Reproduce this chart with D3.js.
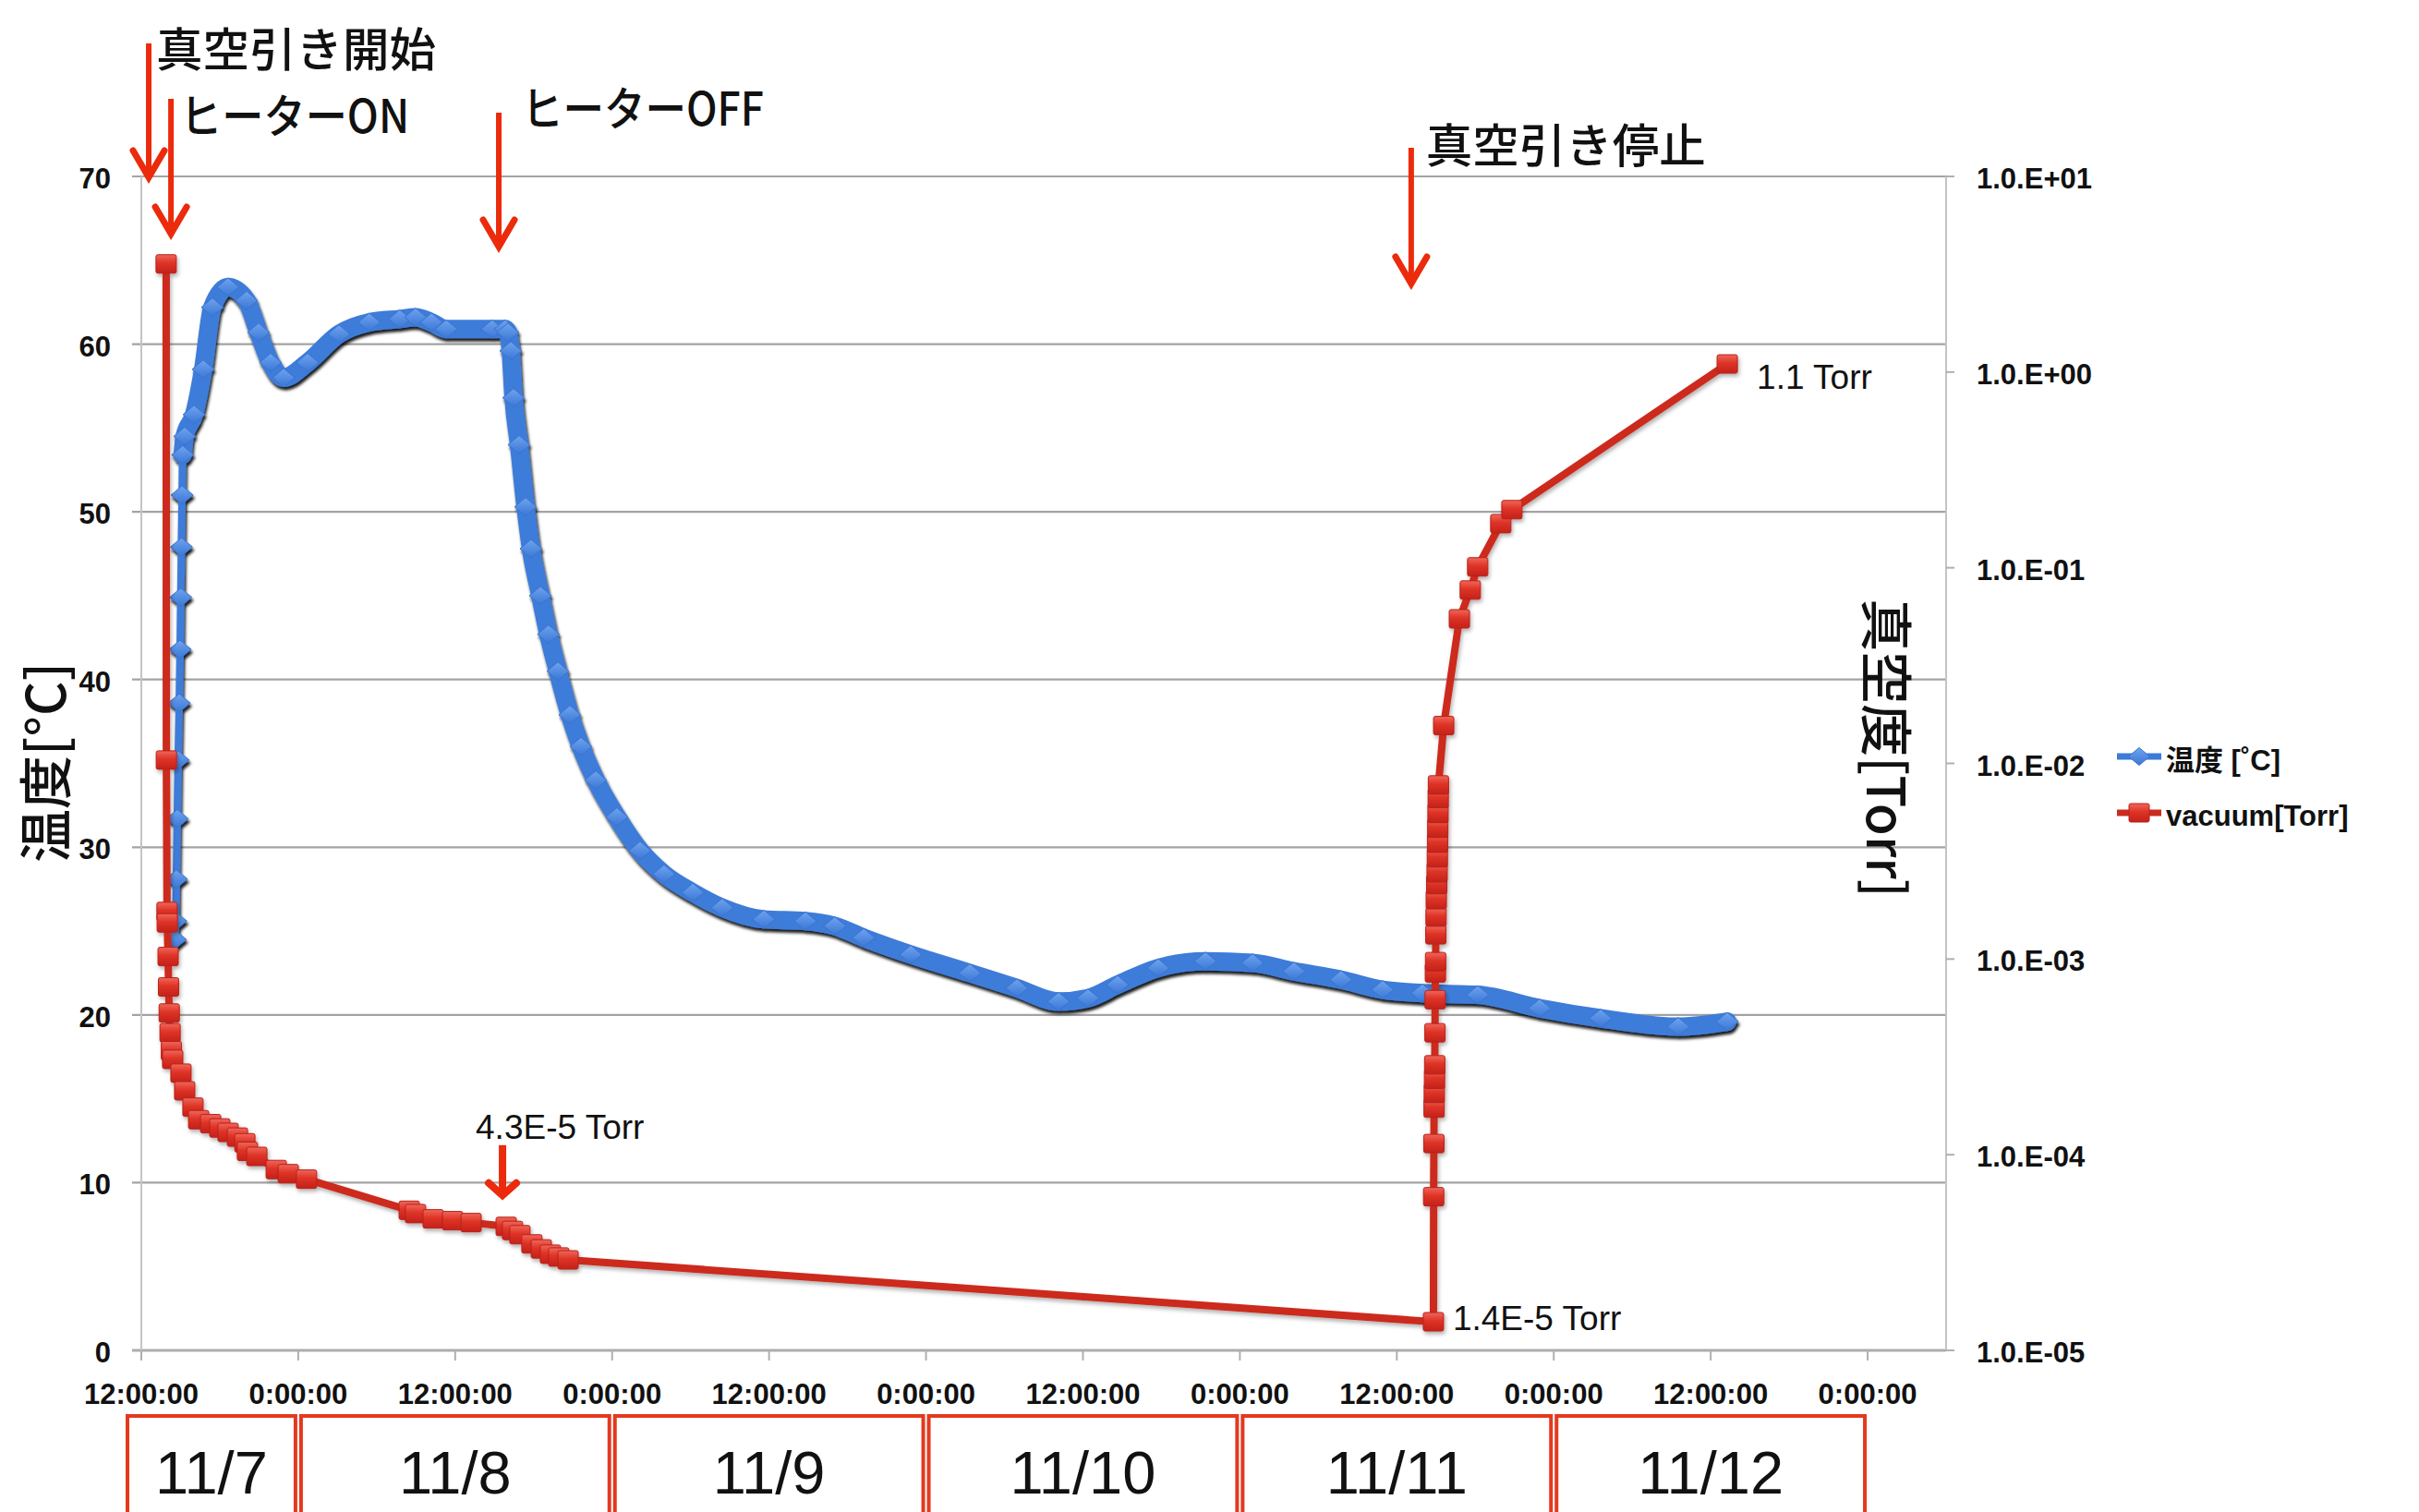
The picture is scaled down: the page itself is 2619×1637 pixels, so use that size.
<!DOCTYPE html>
<html>
<head>
<meta charset="utf-8">
<script src="https://cdn.jsdelivr.net/npm/d3@7"></script>
<style>
  html, body { margin: 0; padding: 0; background: #ffffff; }
  svg { display: block; }
</style>
</head>
<body>
<svg id="chart" width="2619" height="1637"></svg>
<script>
// ---- Logged readings -------------------------------------------------------
// Chamber temperature (°C), time stamps as "month/day hour:minute"
const tempTimes = [
  "11/07 14:36","11/07 14:38","11/07 14:41","11/07 14:45","11/07 14:49","11/07 14:54",
  "11/07 14:58","11/07 15:01","11/07 15:04","11/07 15:07","11/07 15:10","11/07 15:19",
  "11/07 16:02","11/07 16:44","11/07 17:26","11/07 18:38","11/07 20:03","11/07 20:58",
  "11/07 21:53","11/07 22:53","11/08 00:43","11/08 03:07","11/08 05:26","11/08 07:46",
  "11/08 08:58","11/08 10:11","11/08 11:19","11/08 14:50","11/08 15:49","11/08 16:02",
  "11/08 16:15","11/08 16:28","11/08 16:53","11/08 17:23","11/08 17:48","11/08 18:31",
  "11/08 19:08","11/08 19:51","11/08 20:46","11/08 21:37","11/08 22:45","11/09 00:22",
  "11/09 02:08","11/09 03:58","11/09 06:10","11/09 08:25","11/09 11:36","11/09 14:47",
  "11/09 17:02","11/09 19:14","11/09 22:50","11/10 03:21","11/10 06:57","11/10 10:08",
  "11/10 12:23","11/10 14:39","11/10 17:45","11/10 21:22","11/11 00:58","11/11 04:08",
  "11/11 07:44","11/11 10:55","11/11 13:57","11/11 18:11","11/11 22:55","11/12 03:35",
  "11/12 09:31","11/12 13:16"
];
const tempValues = [
  24.5, 25.6, 28.1, 31.7, 35.2, 38.6,
  41.8, 44.9, 47.9, 51.0, 53.4, 54.5,
  55.8, 58.5, 62.2, 63.4, 62.6, 60.7,
  58.9, 58.0, 58.9, 60.6, 61.3, 61.5,
  61.6, 61.3, 60.9, 60.9, 60.9, 60.7,
  59.6, 56.8, 54.0, 50.3, 47.8, 45.0,
  42.7, 40.5, 37.9, 36.0, 34.0, 31.8,
  29.8, 28.4, 27.3, 26.4, 25.7, 25.6,
  25.3, 24.6, 23.6, 22.5, 21.6, 20.8,
  21.0, 21.8, 22.8, 23.2, 23.1, 22.6,
  22.1, 21.5, 21.3, 21.2, 20.4, 19.8,
  19.3, 19.6
];
// Number of early readings taken while the heater was ramping (drawn as separate markers)
const tempRampCount = 11;

// Chamber pressure (Torr)
const vacTimes = [
  "11/07 13:54","11/07 13:55","11/07 13:58","11/07 13:59","11/07 14:03","11/07 14:05",
  "11/07 14:08","11/07 14:12","11/07 14:18","11/07 14:24","11/07 15:02","11/07 15:19",
  "11/07 15:57","11/07 16:23","11/07 17:18","11/07 18:00","11/07 18:38","11/07 19:21",
  "11/07 19:55","11/07 20:07","11/07 20:50","11/07 22:19","11/07 23:14","11/08 00:38",
  "11/08 08:29","11/08 08:58","11/08 10:19","11/08 11:48","11/08 13:13","11/08 15:54",
  "11/08 16:23","11/08 16:57","11/08 17:52","11/08 18:35","11/08 19:17","11/08 19:55",
  "11/08 20:38","11/11 14:48","11/11 14:49","11/11 14:50","11/11 14:51","11/11 14:52",
  "11/11 14:53","11/11 14:54","11/11 14:55","11/11 14:56","11/11 14:57","11/11 14:58",
  "11/11 14:59","11/11 15:00","11/11 15:01","11/11 15:03","11/11 15:05","11/11 15:06",
  "11/11 15:07","11/11 15:08","11/11 15:09","11/11 15:10","11/11 15:11","11/11 15:35",
  "11/11 16:47","11/11 17:37","11/11 18:11","11/11 19:57","11/11 20:48","11/12 13:16"
];
const vacValues = [
  3.57, 1.04e-2, 1.75e-3, 1.53e-3, 1.03e-3, 7.2e-4,
  5.3e-4, 4.2e-4, 3.4e-4, 3.07e-4, 2.61e-4, 2.12e-4,
  1.75e-4, 1.51e-4, 1.44e-4, 1.37e-4, 1.30e-4, 1.23e-4,
  1.15e-4, 1.04e-4, 9.8e-5, 8.4e-5, 8.0e-5, 7.5e-5,
  5.2e-5, 5.0e-5, 4.7e-5, 4.6e-5, 4.5e-5, 4.3e-5,
  4.1e-5, 3.9e-5, 3.5e-5, 3.3e-5, 3.1e-5, 3.0e-5,
  2.9e-5, 1.4e-5, 6.1e-5, 1.14e-4, 1.73e-4, 2.06e-4,
  2.43e-4, 2.88e-4, 4.2e-4, 6.2e-4, 8.5e-4, 9.7e-4,
  1.33e-3, 1.64e-3, 2.01e-3, 2.40e-3, 2.76e-3, 3.29e-3,
  3.91e-3, 4.66e-3, 5.55e-3, 6.61e-3, 7.76e-3, 1.56e-2,
  5.48e-2, 7.69e-2, 0.101, 0.168, 0.198, 1.1
];

// ---- Axes ------------------------------------------------------------------
const timeStart = "11/07 12:00";
const timeEnd = "11/13 06:00";
const tempTicks = [0, 10, 20, 30, 40, 50, 60, 70];
const vacTicks = [1e-5, 1e-4, 1e-3, 1e-2, 1e-1, 1e0, 1e1];
const vacTickLabels = ["1.0.E-05", "1.0.E-04", "1.0.E-03", "1.0.E-02", "1.0.E-01", "1.0.E+00", "1.0.E+01"];

// Calendar days shown under the time axis
const dayLabels = ["11/7", "11/8", "11/9", "11/10", "11/11", "11/12"];
const dayStarts = ["11/07 00:00", "11/08 00:00", "11/09 00:00", "11/10 00:00", "11/11 00:00", "11/12 00:00"];

// Process events
const eventLabels = ["真空引き開始", "ヒーターON", "ヒーターOFF", "真空引き停止"];
const eventTimes = ["11/07 12:34", "11/07 14:16", "11/08 15:20", "11/11 13:06"];

// Pressure readings called out on the plot
const calloutTimes = ["11/08 15:54", "11/11 14:48", "11/12 13:16"];
const calloutValues = [4.3e-5, 1.4e-5, 1.1];
const calloutLabels = ["4.3E-5 Torr", "1.4E-5 Torr", "1.1 Torr"];

const legendLabels = ["温度 [˚C]", "vacuum[Torr]"];
const axisTitles = ["温度[°C]", "真空度[Torr]"];

// ---- Drawing ---------------------------------------------------------------
(function draw() {
const parse = d3.timeParse("%m/%d %H:%M");
const svg = d3.select("#chart");

const plotL = 153, plotR = 2107, plotT = 191, plotB = 1462;

const x = d3.scaleTime().domain([parse(timeStart), parse(timeEnd)]).range([plotL, plotR]);
const yT = d3.scaleLinear().domain([0, 70]).range([plotB, plotT]);
const yP = d3.scaleLog().domain([1e-5, 10]).range([plotB, plotT]);

const temp = tempTimes.map((t, i) => ({ t: parse(t), v: tempValues[i] }));
const vac = vacTimes.map((t, i) => ({ t: parse(t), v: vacValues[i] }));

const BLUE = "#3d7bd9";
const RED = "#cc2a1f";
const ARROW = "#ec2a0c";
const SANS = "'Liberation Sans', Arial, 'Noto Sans CJK JP', sans-serif";
const CJK = "'Noto Sans CJK JP', 'Noto Sans CJK SC', sans-serif";

const defs = svg.append("defs");
const fBlue = defs.append("filter").attr("id", "shadowBlue")
  .attr("x", "-5%").attr("y", "-5%").attr("width", "110%").attr("height", "110%");
fBlue.append("feDropShadow").attr("dx", 1.5).attr("dy", 3.5).attr("stdDeviation", 1.6)
  .attr("flood-color", "#000").attr("flood-opacity", 0.9);
const fRed = defs.append("filter").attr("id", "shadowRed")
  .attr("x", "-5%").attr("y", "-5%").attr("width", "110%").attr("height", "110%");
fRed.append("feDropShadow").attr("dx", 1.5).attr("dy", 3).attr("stdDeviation", 2)
  .attr("flood-color", "#000").attr("flood-opacity", 0.3);

const gSq = defs.append("linearGradient").attr("id", "sqFill")
  .attr("x1", 0).attr("y1", 0).attr("x2", 0).attr("y2", 1);
gSq.append("stop").attr("offset", "0%").attr("stop-color", "#f0675a");
gSq.append("stop").attr("offset", "45%").attr("stop-color", "#de3326");
gSq.append("stop").attr("offset", "100%").attr("stop-color", "#c3221a");
const gDi = defs.append("linearGradient").attr("id", "diFill")
  .attr("x1", 0).attr("y1", 0).attr("x2", 0).attr("y2", 1);
gDi.append("stop").attr("offset", "0%").attr("stop-color", "#6fa3ee");
gDi.append("stop").attr("offset", "100%").attr("stop-color", "#3a77d6");

// Horizontal gridlines (temperature axis)
svg.append("g").selectAll("line").data(tempTicks).join("line")
  .attr("x1", plotL - 10).attr("x2", plotR)
  .attr("y1", d => yT(d)).attr("y2", d => yT(d))
  .attr("stroke", d => d === 0 ? "#adadad" : "#a3a3a3")
  .attr("stroke-width", d => d === 0 ? 3 : 2.2);

// Left and right axis lines
svg.append("line").attr("x1", plotL).attr("x2", plotL).attr("y1", plotT).attr("y2", plotB)
  .attr("stroke", "#c4c4c4").attr("stroke-width", 2);
svg.append("line").attr("x1", plotR).attr("x2", plotR).attr("y1", plotT).attr("y2", plotB)
  .attr("stroke", "#c4c4c4").attr("stroke-width", 2);

// Right axis ticks (pressure, log scale)
svg.append("g").selectAll("line").data(vacTicks).join("line")
  .attr("x1", plotR).attr("x2", plotR + 9)
  .attr("y1", d => yP(d)).attr("y2", d => yP(d))
  .attr("stroke", "#b0b0b0").attr("stroke-width", 2);

// Time axis ticks and labels
const xTicks = d3.timeHour.every(12).range(parse("11/07 12:00"), parse("11/13 00:01"));
const fmtTime = d3.timeFormat("%-H:%M:%S");
svg.append("g").selectAll("line").data(xTicks).join("line")
  .attr("x1", d => x(d)).attr("x2", d => x(d))
  .attr("y1", plotB).attr("y2", plotB + 11)
  .attr("stroke", "#b0b0b0").attr("stroke-width", 2);
svg.append("g").selectAll("text").data(xTicks).join("text")
  .attr("x", d => x(d)).attr("y", 1520)
  .attr("text-anchor", "middle")
  .attr("font-family", SANS).attr("font-weight", "bold").attr("font-size", 31)
  .attr("fill", "#111")
  .text(d => fmtTime(d));

// Left tick labels
svg.append("g").selectAll("text").data(tempTicks).join("text")
  .attr("x", 120).attr("y", d => yT(d) + 13)
  .attr("text-anchor", "end")
  .attr("font-family", SANS).attr("font-weight", "bold").attr("font-size", 31)
  .attr("fill", "#111")
  .text(d => d);

// Right tick labels
svg.append("g").selectAll("text").data(vacTicks).join("text")
  .attr("x", 2140).attr("y", d => yP(d) + 13)
  .attr("font-family", SANS).attr("font-weight", "bold").attr("font-size", 31)
  .attr("fill", "#111")
  .text((d, i) => vacTickLabels[i]);

// Axis titles
svg.append("text")
  .attr("transform", `translate(46, ${(plotT + plotB) / 2 - 1}) rotate(-90)`)
  .attr("text-anchor", "middle").attr("dominant-baseline", "central")
  .attr("font-family", CJK).attr("font-weight", 500).attr("font-size", 58).attr("fill", "#111")
  .text(axisTitles[0]);
svg.append("text")
  .attr("transform", `translate(2046, 810) rotate(90)`)
  .attr("text-anchor", "middle").attr("dominant-baseline", "central")
  .attr("font-family", CJK).attr("font-weight", 500).attr("font-size", 57).attr("fill", "#111")
  .text(axisTitles[1]);

// Diamond marker shape
const diamond = (w, h) => `M0,${-h / 2}L${w / 2},0L0,${h / 2}L${-w / 2},0Z`;

// Temperature series
const tempLine = d3.line().x(d => x(d.t)).y(d => yT(d.v)).curve(d3.curveMonotoneX);
const gTemp = svg.append("g").attr("filter", "url(#shadowBlue)");
gTemp.append("path").datum(temp).attr("d", tempLine)
  .attr("fill", "none").attr("stroke", BLUE).attr("stroke-width", 8)
  .attr("stroke-linejoin", "round");
gTemp.append("path").datum(temp.slice(tempRampCount - 1)).attr("d", tempLine)
  .attr("fill", "none").attr("stroke", BLUE).attr("stroke-width", 20)
  .attr("stroke-linejoin", "round").attr("stroke-linecap", "round");
gTemp.selectAll("path.mk").data(temp).join("path").attr("class", "mk")
  .attr("transform", d => `translate(${x(d.t)},${yT(d.v)})`)
  .attr("d", diamond(24, 20))
  .attr("fill", "url(#diFill)").attr("stroke", "#3a74cf").attr("stroke-width", 1);

// Pressure series
const vacLine = d3.line().x(d => x(d.t)).y(d => yP(d.v));
const gVac = svg.append("g").attr("filter", "url(#shadowRed)");
gVac.append("path").datum(vac).attr("d", vacLine)
  .attr("fill", "none").attr("stroke", RED).attr("stroke-width", 8)
  .attr("stroke-linejoin", "round");
gVac.selectAll("rect").data(vac).join("rect")
  .attr("x", d => x(d.t) - 11).attr("y", d => yP(d.v) - 10)
  .attr("width", 22).attr("height", 20).attr("rx", 2)
  .attr("fill", "url(#sqFill)").attr("stroke", "#b8221a").attr("stroke-width", 1);

// Pressure callouts
const calloutOffsets = [[-33, -95], [21, 9], [32, 27]];
svg.append("g").selectAll("text").data(calloutLabels).join("text")
  .attr("x", (d, i) => x(parse(calloutTimes[i])) + calloutOffsets[i][0])
  .attr("y", (d, i) => yP(calloutValues[i]) + calloutOffsets[i][1])
  .attr("font-family", SANS).attr("font-size", 37).attr("fill", "#111")
  .text(d => d);

// Arrow helper: vertical shaft ending in an open chevron head
function arrow(ax, yTop, yTip, shaft, headW, headH, headStroke) {
  const g = svg.append("g");
  g.append("line").attr("x1", ax).attr("x2", ax).attr("y1", yTop).attr("y2", yTip - 4)
    .attr("stroke", ARROW).attr("stroke-width", shaft);
  g.append("polyline")
    .attr("points", `${ax - headW / 2},${yTip - headH} ${ax},${yTip - headStroke * 0.7} ${ax + headW / 2},${yTip - headH}`)
    .attr("fill", "none").attr("stroke", ARROW).attr("stroke-width", headStroke)
    .attr("stroke-linejoin", "miter").attr("stroke-miterlimit", 10).attr("stroke-linecap", "round");
  return g;
}

// Small pointer to the 4.3E-5 Torr reading
{
  const ax = x(parse(calloutTimes[0])) - 4;
  const yp = yP(calloutValues[0]);
  arrow(ax, yp - 88, yp - 28, 8, 30, 19, 8);
}

// Process event arrows and labels
const eventLayout = [
  { top: 47, tip: 197, tx: 8, ty: 72, w: 303 },
  { top: 107, tip: 258, tx: 10, ty: 144, w: 248 },
  { top: 122, tip: 272, tx: 25, ty: 136, w: 262 },
  { top: 160, tip: 312, tx: 16, ty: 176, w: 303 }
];
eventLabels.forEach((label, i) => {
  const ax = x(parse(eventTimes[i]));
  const L = eventLayout[i];
  arrow(ax, L.top, L.tip, 6, 34, 34, 7);
  svg.append("text")
    .attr("x", ax + L.tx).attr("y", L.ty)
    .attr("font-family", CJK).attr("font-weight", 500).attr("font-size", 50).attr("fill", "#111")
    .attr("textLength", L.w).attr("lengthAdjust", "spacingAndGlyphs")
    .text(label);
});

// Day boxes under the time axis
const dayBoxes = dayStarts.map((s, i) => {
  const start = parse(s);
  const end = d3.timeDay.offset(start, 1);
  const x0 = Math.max(x(start), plotL - 18) + 3;
  const x1 = x(end) - 3;
  return { label: dayLabels[i], x0, x1 };
});
const gDays = svg.append("g");
gDays.selectAll("rect").data(dayBoxes).join("rect")
  .attr("x", d => d.x0).attr("y", 1533)
  .attr("width", d => d.x1 - d.x0).attr("height", 140)
  .attr("fill", "none").attr("stroke", "#e4391f").attr("stroke-width", 4);
gDays.selectAll("text").data(dayBoxes).join("text")
  .attr("x", d => (d.x0 + d.x1) / 2).attr("y", 1617)
  .attr("text-anchor", "middle")
  .attr("font-family", SANS).attr("font-size", 65).attr("fill", "#111")
  .text(d => d.label);

// Legend
const gLeg = svg.append("g");
gLeg.append("line").attr("x1", 2292).attr("x2", 2340).attr("y1", 819).attr("y2", 819)
  .attr("stroke", BLUE).attr("stroke-width", 7);
gLeg.append("path").attr("transform", "translate(2316,819)").attr("d", diamond(23, 19))
  .attr("fill", "url(#diFill)").attr("stroke", "#3a74cf");
gLeg.append("line").attr("x1", 2292).attr("x2", 2340).attr("y1", 880).attr("y2", 880)
  .attr("stroke", RED).attr("stroke-width", 7);
gLeg.append("rect").attr("x", 2305).attr("y", 870).attr("width", 22).attr("height", 20).attr("rx", 2)
  .attr("fill", "url(#sqFill)").attr("stroke", "#b8221a");
gLeg.selectAll("text").data(legendLabels).join("text")
  .attr("x", 2345).attr("y", (d, i) => i === 0 ? 834 : 894)
  .attr("font-family", SANS).attr("font-weight", "bold").attr("font-size", 31)
  .attr("fill", "#111")
  .text(d => d);
})();
</script>
</body>
</html>
